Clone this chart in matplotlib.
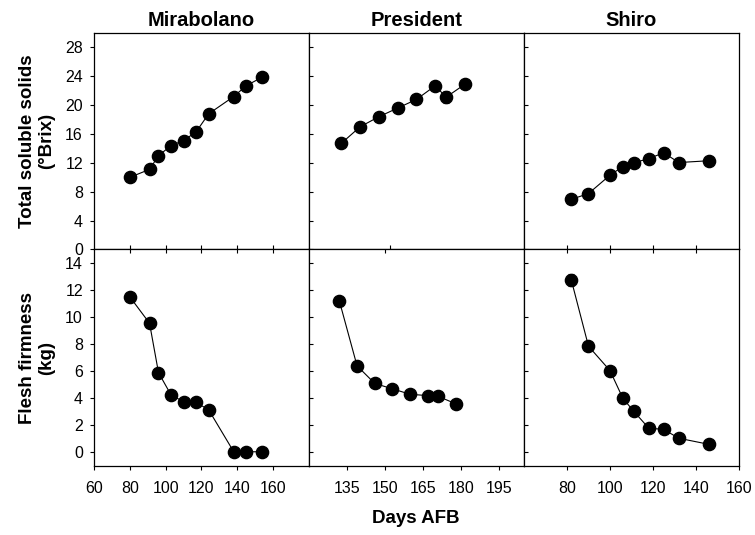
import matplotlib
matplotlib.use("Agg")
import matplotlib.pyplot as plt

plt.rcParams['font.family'] = ['Liberation Sans', 'DejaVu Sans']

# Data (days after full bloom)
cultivars = ['Mirabolano', 'President', 'Shiro']

mira_days = [80, 91, 96, 103, 110, 117, 124, 138, 145, 154]
mira_tss = [10.0, 11.1, 13.0, 14.4, 15.1, 16.3, 18.8, 21.2, 22.7, 23.9]
mira_firm = [11.5, 9.55, 5.9, 4.25, 3.75, 3.7, 3.15, 0.05, 0.05, 0.05]

pres_days = [132, 139, 146, 153, 160, 167, 171, 178]
pres_tss = [14.7, 17.0, 18.4, 19.6, 20.8, 22.7, 21.1, 22.9]
pres_tss_err = [0, 0, 0, 0, 0, 0, 0.8, 0]
pres_firm = [11.2, 6.4, 5.1, 4.7, 4.3, 4.2, 4.15, 3.6]

shiro_days = [82, 90, 100, 106, 111, 118, 125, 132, 146]
shiro_tss = [6.95, 7.75, 10.3, 11.5, 12.0, 12.6, 13.4, 12.05, 12.3]
shiro_firm = [12.75, 7.85, 6.05, 4.0, 3.05, 1.8, 1.7, 1.05, 0.6]
shiro_firm_err = [0.45, 0, 0, 0, 0, 0, 0, 0, 0]

days = [mira_days, pres_days, shiro_days]
tss = [mira_tss, pres_tss, shiro_tss]
tss_err = [None, pres_tss_err, None]
firm = [mira_firm, pres_firm, shiro_firm]
firm_err = [None, None, shiro_firm_err]

# axis settings per column
xlim_top = [(60, 180), (120, 200), (60, 160)]
xlim_bot = [(60, 180), (120, 205), (60, 160)]
xticks_top = [[80, 100, 120, 140, 160], [150], [80, 100, 120, 140]]
xticks_bot = [[60, 80, 100, 120, 140, 160], [135, 150, 165, 180, 195], [80, 100, 120, 140, 160]]

fig, axes = plt.subplots(2, 3, figsize=(7.55, 5.35), dpi=100)
fig.subplots_adjust(left=0.1245, right=0.9788, top=0.9383, bottom=0.129,
                    wspace=0, hspace=0)

def draw(ax, x, y, err):
    ax.plot(x, y, color='black', lw=0.8, zorder=2)
    if err is not None:
        ax.errorbar(x, y, yerr=err, fmt='none', ecolor='black', elinewidth=0.8,
                    capsize=2, capthick=0.8, zorder=2)
    ax.plot(x, y, 'o', color='black', markersize=8.8, zorder=3)

for j in range(3):
    top = axes[0, j]
    bot = axes[1, j]
    draw(top, days[j], tss[j], tss_err[j])
    draw(bot, days[j], firm[j], firm_err[j])

    top.set_xlim(*xlim_top[j])
    bot.set_xlim(*xlim_bot[j])
    top.set_xticks(xticks_top[j])
    bot.set_xticks(xticks_bot[j])
    top.set_ylim(0, 30)
    top.set_yticks(range(0, 29, 4))
    bot.set_ylim(-1, 15)
    bot.set_yticks(range(0, 15, 2))

    top.set_title(cultivars[j], fontsize=14.5, fontweight='bold', pad=5)

    left_dir = 'out' if j == 0 else 'in'
    top.tick_params(axis='y', direction=left_dir, length=3, width=0.8,
                    labelsize=11.5, pad=5, labelleft=(j == 0))
    bot.tick_params(axis='y', direction=left_dir, length=3, width=0.8,
                    labelsize=11.5, pad=5, labelleft=(j == 0))
    top.tick_params(axis='x', direction='in', length=3, width=0.8,
                    labelbottom=False)
    bot.tick_params(axis='x', which='both', direction='out', length=3,
                    width=0.8, labelsize=11.5, pad=8)

    # inward ticks on the shared edge of the lower row
    sec = bot.secondary_xaxis('top')
    sec.set_xticks(xticks_top[j] if j != 1 else [150 * 1.0])
    sec.tick_params(direction='in', length=3, width=0.8, labeltop=False)
    sec.spines['top'].set_visible(False)

    for ax in (top, bot):
        for s in ax.spines.values():
            s.set_linewidth(0.9)
            s.set_color('black')

axes[0, 0].set_ylabel('Total soluble solids\n(°Brix)', fontsize=13.5,
                      fontweight='bold', labelpad=7)
axes[1, 0].set_ylabel('Flesh firmness\n(kg)', fontsize=13.5,
                      fontweight='bold', labelpad=7)
fig.text(0.551, 0.03, 'Days AFB', ha='center', va='center',
         fontsize=13.5, fontweight='bold')

fig.savefig('out.png', dpi=100)
